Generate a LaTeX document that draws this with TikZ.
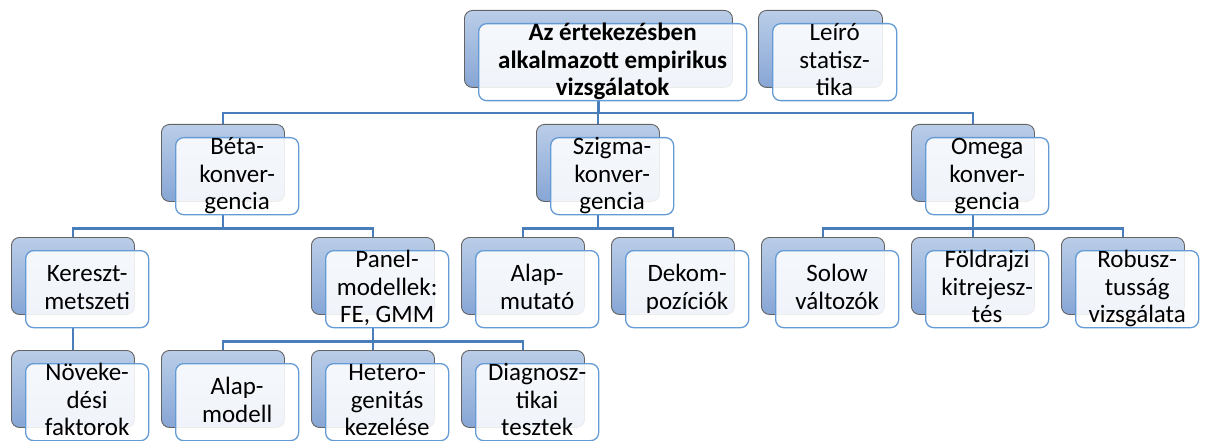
\documentclass[tikz,border=0pt]{standalone}
\usepackage{fontspec}
\setmainfont{Carlito}
\usetikzlibrary{calc}
\definecolor{conncol}{RGB}{74,126,187}
\definecolor{backtop}{RGB}{186,205,232}
\definecolor{backbot}{RGB}{135,166,213}
\definecolor{backline}{RGB}{100,100,100}
\definecolor{frontline}{RGB}{100,155,213}
\pgfdeclarelayer{background}
\pgfsetlayers{background,main}
\newcommand\mybox[5]{%
  \node[backbox,minimum width=#5] (#1b) at (#2,#3) {};
  \node[frontbox,minimum width=#5] (#1) at (#2+14,#3+13) {};
  \node[txt] (#1t) at ($(#1.center)+(0,-2)$) {\vphantom{É}#4\vphantom{g}};}
\begin{document}
\begin{tikzpicture}[x=1pt,y=-1pt,
  backbox/.style={anchor=north west, rounded corners=8pt, draw=backline, line width=0.9pt,
    top color=backtop, bottom color=backbot, minimum height=77pt, inner sep=0pt},
  frontbox/.style={anchor=north west, rounded corners=8pt, draw=frontline, line width=1.3pt,
    fill=white, fill opacity=0.88, minimum height=77pt, inner sep=0pt},
  txt/.style={align=center, inner sep=0pt, font=\fontsize{25}{27.5}\selectfont},
  conn/.style={draw=conncol, line width=2.4pt}]
\useasboundingbox (0,0) rectangle (1205,441);
\mybox{root}{464}{10}{\textbf{Az értekezésben}\\\textbf{alkalmazott empirikus}\\\textbf{vizsgálatok}}{268pt}
\mybox{leiro}{758}{10}{Leíró\\statisz-\\tika}{124pt}
\mybox{beta}{161}{124}{Béta-\\konver-\\gencia}{123pt}
\mybox{szigma}{536}{124}{Szigma-\\konver-\\gencia}{123pt}
\mybox{omega}{911}{124}{Omega\\konver-\\gencia}{123pt}
\mybox{ker}{11}{237}{Kereszt-\\metszeti}{123pt}
\mybox{panel}{311}{237}{Panel-\\modellek:\\FE, GMM}{123pt}
\mybox{alapm}{461}{237}{Alap-\\mutató}{123pt}
\mybox{dek}{611}{237}{Dekom-\\pozíciók}{123pt}
\mybox{solow}{761}{237}{Solow\\változók}{123pt}
\mybox{fold}{911}{237}{Földrajzi\\kitrejesz-\\tés}{123pt}
\mybox{rob}{1061}{237}{Robusz-\\tusság\\vizsgálata}{123pt}
\mybox{nov}{11}{350}{Növeke-\\dési\\faktorok}{123pt}
\mybox{alapmod}{161}{350}{Alap-\\modell}{123pt}
\mybox{het}{311}{350}{Hetero-\\genitás\\kezelése}{123pt}
\mybox{diag}{461}{350}{Diagnosz-\\tikai\\tesztek}{123pt}
\begin{pgfonlayer}{background}
  \draw[conn] (rootb.south |- root.south) -- ++(0,12) coordinate (j0);
  \draw[conn] (j0) -| (betab.north);
  \draw[conn] (j0) -| (szigmab.north);
  \draw[conn] (j0) -| (omegab.north);
  \draw[conn] (betab.south |- beta.south) -- ++(0,13) coordinate (j1);
  \draw[conn] (j1) -| (kerb.north);
  \draw[conn] (j1) -| (panelb.north);
  \draw[conn] (szigmab.south |- szigma.south) -- ++(0,13) coordinate (j2);
  \draw[conn] (j2) -| (alapmb.north);
  \draw[conn] (j2) -| (dekb.north);
  \draw[conn] (omegab.south |- omega.south) -- ++(0,13) coordinate (j3);
  \draw[conn] (j3) -| (solowb.north);
  \draw[conn] (j3) -| (foldb.north);
  \draw[conn] (j3) -| (robb.north);
  \draw[conn] (kerb.south |- ker.south) -- (novb.north);
  \draw[conn] (panelb.south |- panel.south) -- ++(0,13) coordinate (j4);
  \draw[conn] (j4) -| (alapmodb.north);
  \draw[conn] (j4) -| (hetb.north);
  \draw[conn] (j4) -| (diagb.north);
\end{pgfonlayer}
\end{tikzpicture}
\end{document}
